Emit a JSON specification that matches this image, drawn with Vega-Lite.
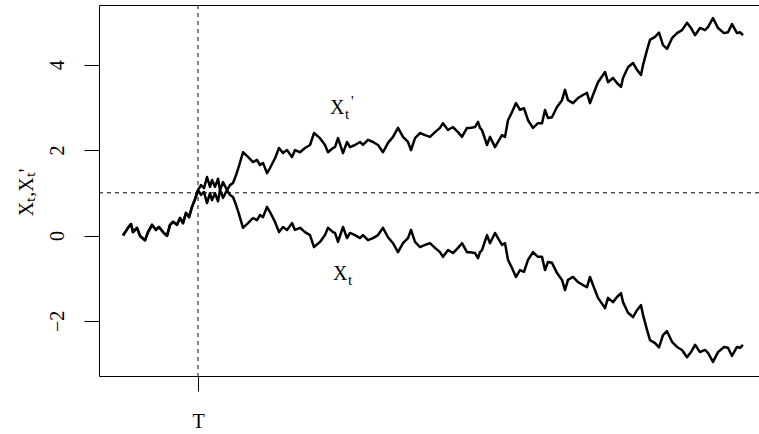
{
  "$schema": "https://vega.github.io/schema/vega-lite/v6.json",
  "autosize": {"type": "none"},
  "width": 660,
  "height": 371,
  "padding": {"left": 99, "top": 5, "right": 0, "bottom": 58},
  "background": "white",
  "view": {"stroke": null},
  "datasets": {
    "paths": [
      {"t": 0, "X": 0.0, "Xp": 0.0},
      {"t": 5, "X": 0.18, "Xp": 0.18},
      {"t": 8, "X": 0.27, "Xp": 0.27},
      {"t": 10, "X": 0.08, "Xp": 0.08},
      {"t": 14, "X": 0.18, "Xp": 0.18},
      {"t": 17, "X": -0.01, "Xp": -0.01},
      {"t": 22, "X": -0.11, "Xp": -0.11},
      {"t": 25, "X": 0.08, "Xp": 0.08},
      {"t": 29, "X": 0.25, "Xp": 0.25},
      {"t": 33, "X": 0.13, "Xp": 0.13},
      {"t": 36, "X": 0.2, "Xp": 0.2},
      {"t": 40, "X": 0.08, "Xp": 0.08},
      {"t": 44, "X": -0.01, "Xp": -0.01},
      {"t": 47, "X": 0.25, "Xp": 0.25},
      {"t": 50, "X": 0.32, "Xp": 0.32},
      {"t": 54, "X": 0.25, "Xp": 0.25},
      {"t": 57, "X": 0.41, "Xp": 0.41},
      {"t": 60, "X": 0.29, "Xp": 0.29},
      {"t": 63, "X": 0.53, "Xp": 0.53},
      {"t": 66, "X": 0.43, "Xp": 0.43},
      {"t": 69, "X": 0.67, "Xp": 0.67},
      {"t": 72, "X": 0.85, "Xp": 0.85},
      {"t": 75, "X": 1.065, "Xp": 1.065},
      {"t": 78, "X": 0.95, "Xp": 1.18},
      {"t": 81, "X": 1.02, "Xp": 1.11},
      {"t": 84, "X": 0.76, "Xp": 1.37},
      {"t": 87, "X": 0.99, "Xp": 1.14},
      {"t": 89, "X": 0.83, "Xp": 1.3},
      {"t": 92, "X": 0.99, "Xp": 1.14},
      {"t": 95, "X": 0.8, "Xp": 1.33},
      {"t": 97, "X": 1.065, "Xp": 1.065},
      {"t": 100, "X": 1.25, "Xp": 0.88},
      {"t": 104, "X": 1.065, "Xp": 1.065},
      {"t": 107, "X": 0.95, "Xp": 1.18},
      {"t": 110, "X": 0.9, "Xp": 1.23},
      {"t": 113, "X": 0.72, "Xp": 1.41},
      {"t": 116, "X": 0.5, "Xp": 1.63},
      {"t": 120, "X": 0.18, "Xp": 1.95},
      {"t": 125, "X": 0.29, "Xp": 1.84},
      {"t": 130, "X": 0.41, "Xp": 1.72},
      {"t": 134, "X": 0.36, "Xp": 1.77},
      {"t": 137, "X": 0.48, "Xp": 1.65},
      {"t": 140, "X": 0.43, "Xp": 1.7},
      {"t": 144, "X": 0.67, "Xp": 1.46},
      {"t": 147, "X": 0.55, "Xp": 1.58},
      {"t": 152, "X": 0.32, "Xp": 1.81},
      {"t": 156, "X": 0.08, "Xp": 2.05},
      {"t": 160, "X": 0.2, "Xp": 1.93},
      {"t": 164, "X": 0.13, "Xp": 2.0},
      {"t": 169, "X": 0.29, "Xp": 1.84},
      {"t": 172, "X": 0.13, "Xp": 2.0},
      {"t": 177, "X": 0.18, "Xp": 1.95},
      {"t": 182, "X": 0.08, "Xp": 2.05},
      {"t": 187, "X": 0.01, "Xp": 2.12},
      {"t": 191, "X": -0.27, "Xp": 2.4},
      {"t": 197, "X": -0.15, "Xp": 2.28},
      {"t": 202, "X": 0.01, "Xp": 2.12},
      {"t": 205, "X": 0.18, "Xp": 1.95},
      {"t": 210, "X": 0.08, "Xp": 2.05},
      {"t": 212, "X": 0.06, "Xp": 2.07},
      {"t": 215, "X": -0.15, "Xp": 2.28},
      {"t": 220, "X": 0.2, "Xp": 1.93},
      {"t": 224, "X": -0.06, "Xp": 2.19},
      {"t": 227, "X": 0.06, "Xp": 2.07},
      {"t": 232, "X": 0.01, "Xp": 2.12},
      {"t": 237, "X": -0.06, "Xp": 2.19},
      {"t": 240, "X": 0.01, "Xp": 2.12},
      {"t": 245, "X": -0.11, "Xp": 2.24},
      {"t": 250, "X": -0.06, "Xp": 2.19},
      {"t": 255, "X": 0.01, "Xp": 2.12},
      {"t": 260, "X": 0.18, "Xp": 1.95},
      {"t": 265, "X": -0.04, "Xp": 2.17},
      {"t": 270, "X": -0.18, "Xp": 2.31},
      {"t": 275, "X": -0.39, "Xp": 2.52},
      {"t": 280, "X": -0.18, "Xp": 2.31},
      {"t": 285, "X": -0.06, "Xp": 2.19},
      {"t": 288, "X": 0.13, "Xp": 2.0},
      {"t": 292, "X": -0.15, "Xp": 2.28},
      {"t": 297, "X": -0.27, "Xp": 2.4},
      {"t": 302, "X": -0.22, "Xp": 2.35},
      {"t": 307, "X": -0.18, "Xp": 2.31},
      {"t": 312, "X": -0.29, "Xp": 2.42},
      {"t": 317, "X": -0.39, "Xp": 2.52},
      {"t": 320, "X": -0.5, "Xp": 2.63},
      {"t": 325, "X": -0.34, "Xp": 2.47},
      {"t": 330, "X": -0.41, "Xp": 2.54},
      {"t": 335, "X": -0.29, "Xp": 2.42},
      {"t": 339, "X": -0.18, "Xp": 2.31},
      {"t": 344, "X": -0.39, "Xp": 2.52},
      {"t": 347, "X": -0.39, "Xp": 2.52},
      {"t": 352, "X": -0.41, "Xp": 2.54},
      {"t": 355, "X": -0.53, "Xp": 2.66},
      {"t": 357, "X": -0.39, "Xp": 2.52},
      {"t": 359, "X": -0.34, "Xp": 2.47},
      {"t": 364, "X": 0.01, "Xp": 2.12},
      {"t": 367, "X": -0.18, "Xp": 2.31},
      {"t": 372, "X": 0.06, "Xp": 2.07},
      {"t": 375, "X": -0.06, "Xp": 2.19},
      {"t": 379, "X": -0.22, "Xp": 2.35},
      {"t": 382, "X": -0.18, "Xp": 2.31},
      {"t": 385, "X": -0.57, "Xp": 2.7},
      {"t": 389, "X": -0.76, "Xp": 2.89},
      {"t": 393, "X": -0.97, "Xp": 3.1},
      {"t": 397, "X": -0.81, "Xp": 2.94},
      {"t": 401, "X": -0.85, "Xp": 2.98},
      {"t": 405, "X": -0.57, "Xp": 2.7},
      {"t": 410, "X": -0.39, "Xp": 2.52},
      {"t": 415, "X": -0.5, "Xp": 2.63},
      {"t": 419, "X": -0.5, "Xp": 2.63},
      {"t": 422, "X": -0.81, "Xp": 2.94},
      {"t": 425, "X": -0.62, "Xp": 2.75},
      {"t": 429, "X": -0.64, "Xp": 2.77},
      {"t": 434, "X": -0.88, "Xp": 3.01},
      {"t": 439, "X": -1.04, "Xp": 3.17},
      {"t": 442, "X": -1.28, "Xp": 3.41},
      {"t": 445, "X": -1.04, "Xp": 3.17},
      {"t": 450, "X": -0.97, "Xp": 3.1},
      {"t": 455, "X": -1.09, "Xp": 3.22},
      {"t": 460, "X": -1.16, "Xp": 3.29},
      {"t": 464, "X": -1.21, "Xp": 3.34},
      {"t": 467, "X": -0.97, "Xp": 3.1},
      {"t": 470, "X": -1.16, "Xp": 3.29},
      {"t": 475, "X": -1.46, "Xp": 3.59},
      {"t": 480, "X": -1.63, "Xp": 3.76},
      {"t": 482, "X": -1.7, "Xp": 3.83},
      {"t": 485, "X": -1.46, "Xp": 3.59},
      {"t": 490, "X": -1.56, "Xp": 3.69},
      {"t": 494, "X": -1.44, "Xp": 3.57},
      {"t": 498, "X": -1.35, "Xp": 3.48},
      {"t": 500, "X": -1.56, "Xp": 3.69},
      {"t": 505, "X": -1.81, "Xp": 3.94},
      {"t": 510, "X": -1.91, "Xp": 4.04},
      {"t": 514, "X": -1.75, "Xp": 3.88},
      {"t": 518, "X": -1.63, "Xp": 3.76},
      {"t": 520, "X": -1.86, "Xp": 3.99},
      {"t": 524, "X": -2.21, "Xp": 4.34},
      {"t": 527, "X": -2.45, "Xp": 4.58},
      {"t": 532, "X": -2.52, "Xp": 4.65},
      {"t": 536, "X": -2.62, "Xp": 4.75},
      {"t": 540, "X": -2.33, "Xp": 4.46},
      {"t": 544, "X": -2.24, "Xp": 4.37},
      {"t": 549, "X": -2.49, "Xp": 4.62},
      {"t": 554, "X": -2.61, "Xp": 4.74},
      {"t": 559, "X": -2.68, "Xp": 4.81},
      {"t": 564, "X": -2.85, "Xp": 4.98},
      {"t": 568, "X": -2.73, "Xp": 4.86},
      {"t": 572, "X": -2.56, "Xp": 4.69},
      {"t": 577, "X": -2.73, "Xp": 4.86},
      {"t": 582, "X": -2.68, "Xp": 4.81},
      {"t": 585, "X": -2.75, "Xp": 4.88},
      {"t": 590, "X": -2.96, "Xp": 5.09},
      {"t": 595, "X": -2.73, "Xp": 4.86},
      {"t": 601, "X": -2.61, "Xp": 4.74},
      {"t": 605, "X": -2.63, "Xp": 4.76},
      {"t": 609, "X": -2.82, "Xp": 4.95},
      {"t": 614, "X": -2.61, "Xp": 4.74},
      {"t": 617, "X": -2.63, "Xp": 4.76},
      {"t": 620, "X": -2.56, "Xp": 4.69}
    ],
    "annot": [
      {"t": 207, "v": 2.85, "main": "X", "sub": "t", "prime": "'"},
      {"t": 210, "v": -1.04, "main": "X", "sub": "t", "prime": ""}
    ]
  },
  "layer": [
    {
      "data": {"name": "paths"},
      "transform": [{"fold": ["X", "Xp"], "as": ["series", "v"]}],
      "mark": {"type": "line", "color": "black", "strokeWidth": 2.5, "strokeJoin": "round"},
      "encoding": {
        "x": {
          "field": "t", "type": "quantitative",
          "scale": {"domain": [-24, 636], "nice": false, "zero": false},
          "axis": {
            "orient": "bottom", "values": [75], "labelExpr": "'T'", "title": null, "grid": false,
            "tickSize": 15, "tickColor": "black", "domainColor": "black", "domainWidth": 1,
            "labelFont": "Liberation Serif", "labelFontSize": 20, "labelColor": "black",
            "labelPadding": 20, "labelBaseline": "top", "labelFlush": false
          }
        },
        "y": {
          "field": "v", "type": "quantitative",
          "scale": {"domain": [-3.29, 5.398], "nice": false, "zero": false},
          "axis": {
            "values": [-2, 0, 2, 4], "grid": false,
            "tickSize": 15, "tickColor": "black", "domainColor": "black", "domainWidth": 1,
            "labelFont": "Liberation Serif", "labelFontSize": 20, "labelColor": "black",
            "labelAngle": -90, "labelAlign": "center", "labelBaseline": "alphabetic", "labelPadding": 21,
            "title": "Xₜ,Xₜ'", "titleFont": "Liberation Serif", "titleFontSize": 20,
            "titleFontWeight": "normal", "titleColor": "black", "titleAngle": -90,
            "titleX": -67, "titleY": 187, "titleAlign": "center", "titleBaseline": "alphabetic"
          }
        },
        "detail": {"field": "series"}
      }
    },
    {
      "data": {"values": [{"T": 75}]},
      "mark": {"type": "rule", "color": "black", "strokeWidth": 1, "strokeDash": [4, 4]},
      "encoding": {
        "x": {
          "field": "T", "type": "quantitative",
          "axis": {"orient": "top", "ticks": false, "labels": false, "title": null, "grid": false, "domainColor": "black", "domainWidth": 1}
        }
      }
    },
    {
      "data": {"values": [{"level": 1}]},
      "mark": {"type": "rule", "color": "black", "strokeWidth": 1, "strokeDash": [4, 4]},
      "encoding": {
        "y": {"field": "level", "type": "quantitative"}
      }
    },
    {
      "data": {"name": "annot"},
      "mark": {"type": "text", "font": "Liberation Serif", "fontSize": 20, "color": "black", "align": "left", "baseline": "alphabetic"},
      "encoding": {
        "x": {"field": "t", "type": "quantitative", "axis": null},
        "y": {"field": "v", "type": "quantitative"},
        "text": {"field": "main"}
      }
    },
    {
      "data": {"name": "annot"},
      "mark": {"type": "text", "font": "Liberation Serif", "fontSize": 15, "color": "black", "align": "left", "baseline": "alphabetic", "dx": 15, "dy": 5},
      "encoding": {
        "x": {"field": "t", "type": "quantitative", "axis": null},
        "y": {"field": "v", "type": "quantitative"},
        "text": {"field": "sub"}
      }
    },
    {
      "data": {"name": "annot"},
      "mark": {"type": "text", "font": "Liberation Serif", "fontSize": 15, "color": "black", "align": "left", "baseline": "alphabetic", "dx": 21, "dy": -8},
      "encoding": {
        "x": {"field": "t", "type": "quantitative", "axis": null},
        "y": {"field": "v", "type": "quantitative"},
        "text": {"field": "prime"}
      }
    }
  ],
  "resolve": {"axis": {"x": "independent"}}
}
